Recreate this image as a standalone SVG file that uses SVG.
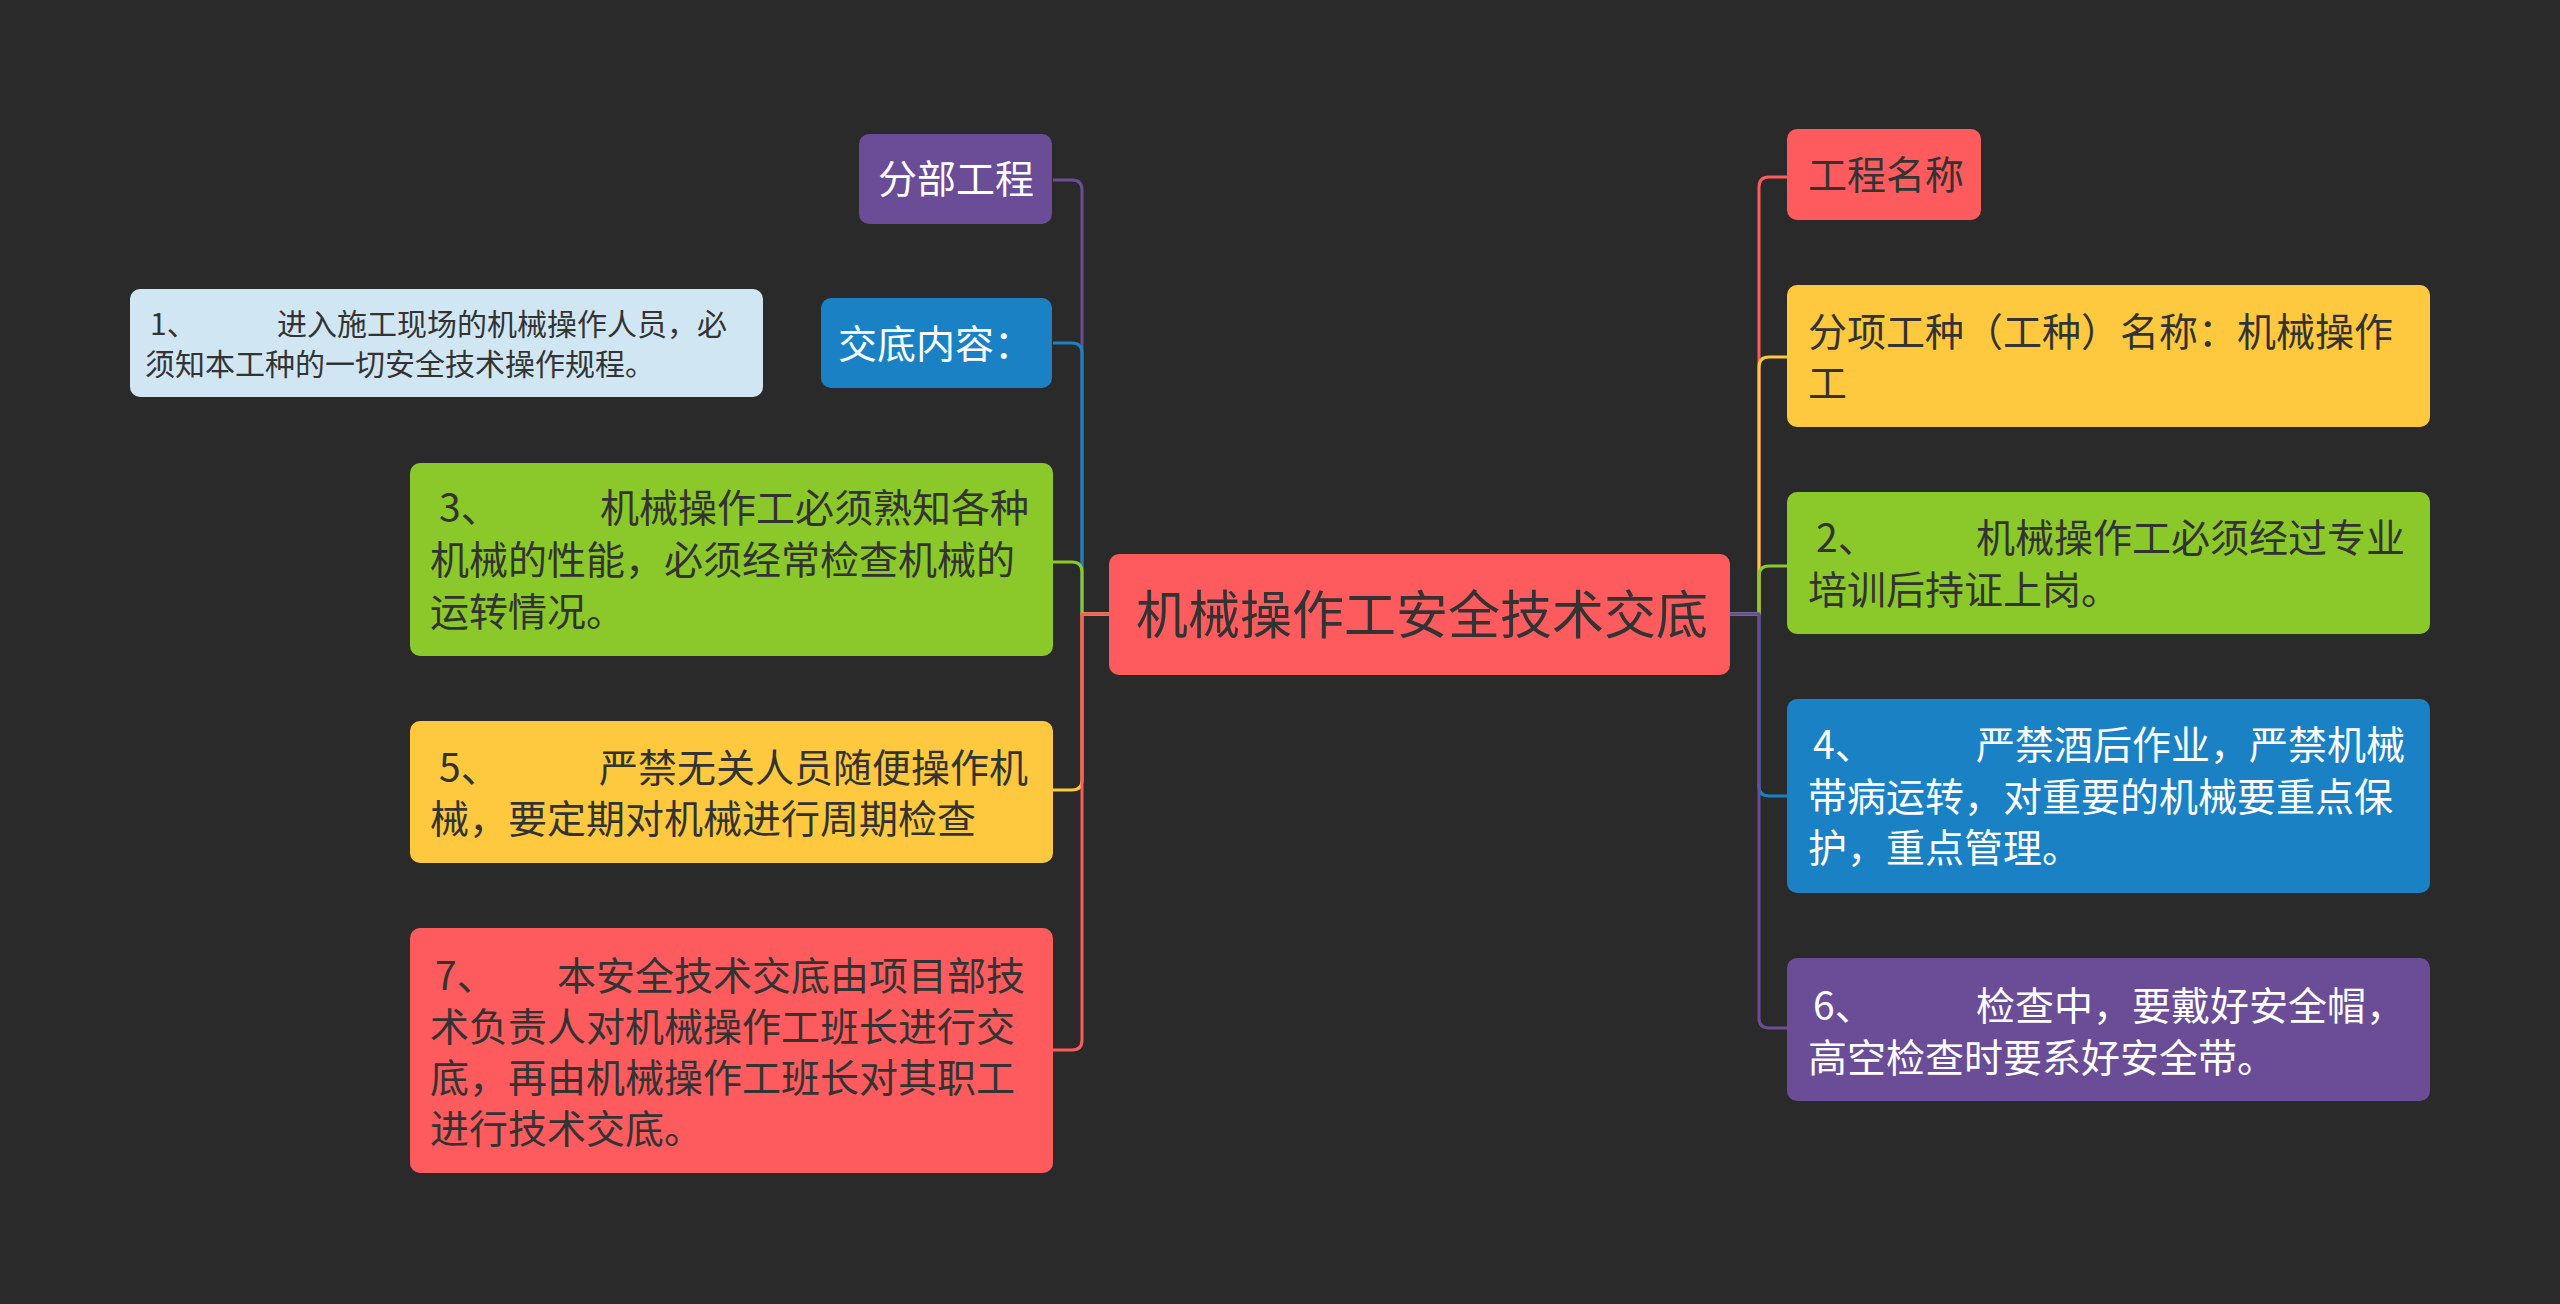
<svg xmlns="http://www.w3.org/2000/svg" width="2560" height="1304" viewBox="0 0 2560 1304">
<style>
text{font-family:"Noto Sans CJK SC","Noto Sans",sans-serif}
.dk{fill:#333333}
.wt{fill:#ffffff}
.f52{font-size:52px}
.f39{font-size:39px}
.f30{font-size:30px}
.ln{fill:none;stroke-width:3;stroke-linejoin:round}
.red{fill:#fd5b5e}.pur{fill:#6a4d96}.blu{fill:#1a82c4}.grn{fill:#8bc92a}.yel{fill:#fec93e}.lbl{fill:#d1e6f3}
</style>
<rect width="2560" height="1304" fill="#2a2a2a"/>
<g id="connectors">
<path class="ln" stroke="#6a4d96" d="M1109 614H1082V190Q1082 180 1072 180H1053"/>
<path class="ln" stroke="#1a82c4" d="M1109 614H1082V353Q1082 343 1072 343H1053"/>
<path class="ln" stroke="#8bc92a" d="M1109 614H1082V572Q1082 562 1072 562H1053"/>
<path class="ln" stroke="#fec93e" d="M1109 614H1082V780Q1082 790 1072 790H1053"/>
<path class="ln" stroke="#fd5b5e" d="M1109 614H1082V1040Q1082 1050 1072 1050H1053"/>
<path class="ln" stroke="#fd5b5e" d="M1730 614H1759V187Q1759 177 1769 177H1787"/>
<path class="ln" stroke="#fec93e" d="M1730 614H1759V367Q1759 357 1769 357H1787"/>
<path class="ln" stroke="#8bc92a" d="M1730 614H1759V576Q1759 566 1769 566H1787"/>
<path class="ln" stroke="#1a82c4" d="M1730 614H1759V786Q1759 796 1769 796H1787"/>
<path class="ln" stroke="#6a4d96" d="M1730 614H1759V1018Q1759 1028 1769 1028H1787"/>
</g>
<g id="center">
<rect class="red" x="1109" y="554" width="621" height="121" rx="10"/>
<text class="dk f52" x="1136" y="634">机械操作工安全技术交底</text>
</g>
<g id="fenbu">
<rect class="pur" x="859" y="134" width="193" height="90" rx="10"/>
<text class="wt f39" x="878" y="193">分部工程</text>
</g>
<g id="jiaodi">
<rect class="blu" x="821" y="298" width="231" height="90" rx="10"/>
<text class="wt f39" x="838" y="358">交底内容：</text>
</g>
<g id="n1">
<rect class="lbl" x="130" y="289" width="633" height="108" rx="10"/>
<text class="dk f30"><tspan x="150" y="335">1、</tspan><tspan x="277" y="335">进入施工现场的机械操作人员，必</tspan><tspan x="145" y="375">须知本工种的一切安全技术操作规程。</tspan></text>
</g>
<g id="n3">
<rect class="grn" x="410" y="463" width="643" height="193" rx="10"/>
<text class="dk f39"><tspan x="439" y="522">3、</tspan><tspan x="600" y="522">机械操作工必须熟知各种</tspan><tspan x="430" y="574">机械的性能，必须经常检查机械的</tspan><tspan x="430" y="626">运转情况。</tspan></text>
</g>
<g id="n5">
<rect class="yel" x="410" y="721" width="643" height="142" rx="10"/>
<text class="dk f39"><tspan x="439" y="782">5、</tspan><tspan x="599" y="782">严禁无关人员随便操作机</tspan><tspan x="430" y="833">械，要定期对机械进行周期检查</tspan></text>
</g>
<g id="n7">
<rect class="red" x="410" y="928" width="643" height="245" rx="10"/>
<text class="dk f39"><tspan x="435" y="990">7、</tspan><tspan x="557" y="990">本安全技术交底由项目部技</tspan><tspan x="430" y="1041">术负责人对机械操作工班长进行交</tspan><tspan x="430" y="1092">底，再由机械操作工班长对其职工</tspan><tspan x="430" y="1143">进行技术交底。</tspan></text>
</g>
<g id="gcmc">
<rect class="red" x="1787" y="129" width="194" height="91" rx="10"/>
<text class="dk f39" x="1808" y="189">工程名称</text>
</g>
<g id="fxgz">
<rect class="yel" x="1787" y="285" width="643" height="142" rx="10"/>
<text class="dk f39"><tspan x="1808" y="346">分项工种（工种）名称：机械操作</tspan><tspan x="1808" y="397">工</tspan></text>
</g>
<g id="n2">
<rect class="grn" x="1787" y="492" width="643" height="142" rx="10"/>
<text class="dk f39"><tspan x="1816" y="552">2、</tspan><tspan x="1976" y="552">机械操作工必须经过专业</tspan><tspan x="1808" y="604">培训后持证上岗。</tspan></text>
</g>
<g id="n4">
<rect class="blu" x="1787" y="699" width="643" height="194" rx="10"/>
<text class="wt f39"><tspan x="1813" y="759">4、</tspan><tspan x="1976" y="759">严禁酒后作业，严禁机械</tspan><tspan x="1808" y="811">带病运转，对重要的机械要重点保</tspan><tspan x="1808" y="862">护，重点管理。</tspan></text>
</g>
<g id="n6">
<rect class="pur" x="1787" y="958" width="643" height="143" rx="10"/>
<text class="wt f39"><tspan x="1813" y="1020">6、</tspan><tspan x="1976" y="1020">检查中，要戴好安全帽，</tspan><tspan x="1808" y="1072">高空检查时要系好安全带。</tspan></text>
</g>
</svg>
